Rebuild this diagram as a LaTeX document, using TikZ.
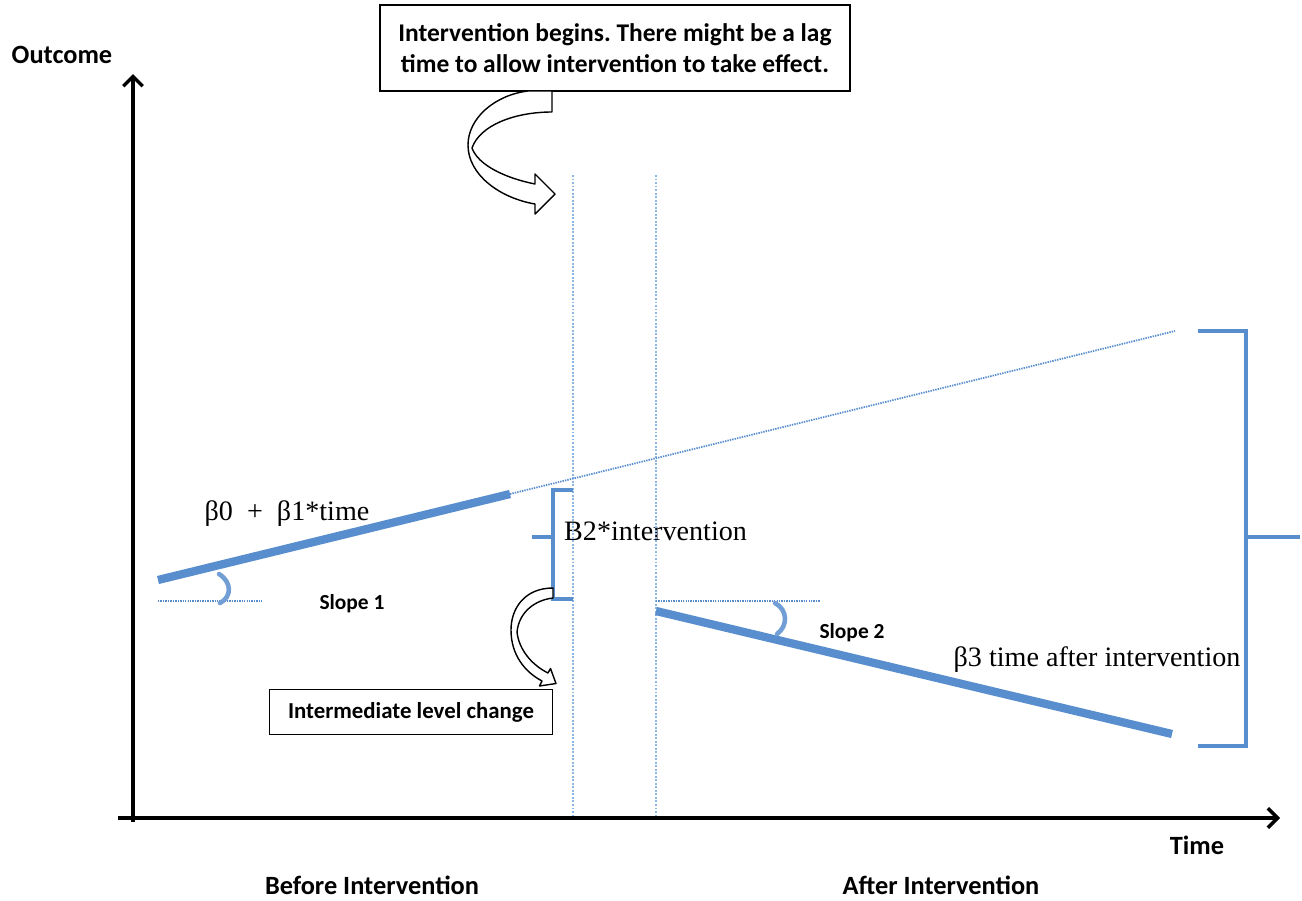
\documentclass[tikz,border=0pt]{standalone}
\usepackage{fontspec}
\newfontfamily\labelfont{Carlito}
\newfontfamily\eqnfont{Liberation Serif}
\usetikzlibrary{arrows.meta,positioning}
\definecolor{lineblue}{RGB}{88,141,206}
\definecolor{dotblue}{RGB}{140,182,228}
\frenchspacing

\begin{document}
\begin{tikzpicture}[x=0.02cm, y=-0.02cm,
    axis/.style = {line width=2pt, -{Straight Barb[length=5.5pt,width=11pt,line width=2pt]}},
    lab/.style = {font=\labelfont\bfseries\fontsize{15}{18}\selectfont},
    small/.style = {font=\labelfont\bfseries\fontsize{12.2}{14}\selectfont},
    eqn/.style = {font=\eqnfont\fontsize{16}{19}\selectfont},
    callout/.style = {draw, line width=0.9pt, fill=white, inner sep=0pt},
    trend/.style = {lineblue, line width=4.7pt},
    guide/.style = {dotblue, line width=1pt, dash pattern=on 1.1pt off 0.9pt},
    level/.style = {lineblue, line width=1.4pt, dash pattern=on 0.8pt off 0.6pt},
    brace/.style = {lineblue, line width=1.8pt},
    angle/.style = {lineblue!85, line width=2.6pt, line cap=round},
    bent/.style = {draw=black, line width=0.8pt, fill=white, line join=round}]
      \useasboundingbox (0,0) rectangle (1302,900);
      % place nodes
      \node (outcome) [lab] at (62,55) {Outcome};
      \node (timelab) [lab] at (1197,845) {Time};
      \node (before) [lab] at (372,885) {Before Intervention};
      \node (after) [lab] at (941,885) {After Intervention};

      \node (begins) [callout, minimum width=9.4cm, minimum height=1.72cm, align=center,
        font=\labelfont\bfseries\fontsize{14.5}{17.6}\selectfont] at (615,48)
        {Intervention begins. There might be a lag\\time to allow intervention to take effect.};
      \node (level) [callout, minimum width=5.66cm, minimum height=0.9cm,
        font=\labelfont\bfseries\fontsize{13}{15}\selectfont] at (411,712) {Intermediate level change};

      \node (slopeA) [small] at (352,604) {Slope 1};
      \node (slopeB) [small] at (852,633) {Slope 2};
      \node (pre) [eqn] at (287,514) {β0\ \ +\ \ β1*time};
      \node (b2) [eqn, anchor=west] at (558,531) {B2*intervention};
      \node (post) [eqn] at (1097,660) {β3 time after intervention};

      \coordinate (O) at (133,822);
      \coordinate (ytop) at (133,74);
      \coordinate (xstart) at (118,818);
      \coordinate (xend) at (1280,818);

      \coordinate (preA) at (158,580);
      \coordinate (preB) at (510,494);
      \coordinate (cfEnd) at (1175,331);
      \coordinate (postA) at (656,611);
      \coordinate (postB) at (1172,734);

      \coordinate (lagA) at (573,175);
      \coordinate (lagA') at (573,818);
      \coordinate (lagB) at (656,175);
      \coordinate (lagB') at (656,818);
      % draw edges
      \draw [axis] (O) -- (ytop);
      \draw [axis] (xstart) -- (xend);

      \draw [guide] (lagA) -- (lagA');
      \draw [guide] (lagB) -- (lagB');

      \draw [lineblue, line width=1pt, dash pattern=on 0.8pt off 0.6pt] (preB) -- (cfEnd);
      \draw [trend] (preA) -- (preB);
      \draw [trend] (postA) -- (postB);

      % slope markers
      \draw [level] (158,601) -- (262,601);
      \draw [angle] (219,574) .. controls (232,582) and (232,597) .. (220,603);
      \draw [level] (656,601) -- (820,601);
      \draw [angle] (775,603) .. controls (788,610) and (788,626) .. (777,634);

      % level change bracket
      \draw [brace] (573,490) -- (553,490) -- (553,599) -- (573,599);
      \draw [brace] (532,537) -- (553,537);

      % total effect bracket
      \draw [brace] (1198,331) -- (1246,331) -- (1246,746) -- (1198,746);
      \draw [brace] (1246,537) -- (1300,537);

      % bent arrows
      \draw [bent] (552,91) -- (528,91) .. controls (495,95) and (468,118) .. (468,145)
        .. controls (468,175) and (500,198) .. (535,204) -- (535,214) -- (555,194)
        -- (535,174) -- (535,184) .. controls (505,178) and (478,165) .. (472,148)
        .. controls (480,125) and (515,112) .. (552,112) -- cycle;
      \draw [bent] (553,588) .. controls (525,588) and (511,608) .. (511,630)
        .. controls (511,655) and (525,672) .. (542,681) -- (539.5,686) -- (556,683.5)
        -- (550.5,668.5) -- (548,673) .. controls (532,665) and (519,650) .. (517,632)
        .. controls (519,612) and (535,600) .. (553,598) -- cycle;
    \end{tikzpicture}
\end{document}
